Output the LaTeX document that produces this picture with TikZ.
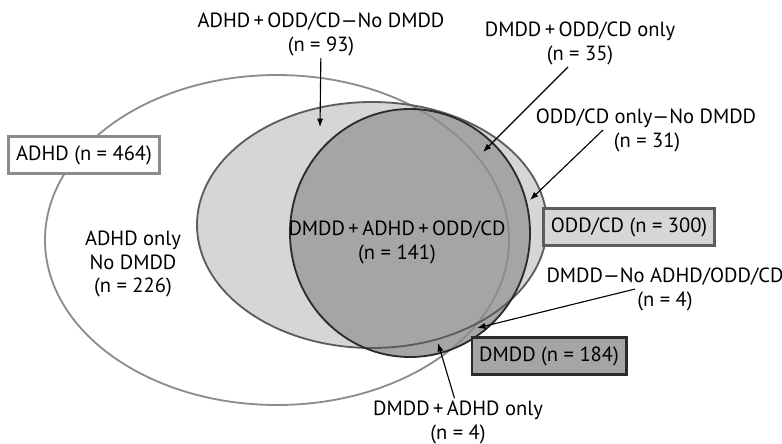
\documentclass[tikz,border=0pt]{standalone}
\usepackage{fontspec}
\setmainfont{PT Sans}
\usepackage{tikz}
\usetikzlibrary{arrows.meta}
\usetikzlibrary{positioning}

\definecolor{adhdline}{HTML}{8C8C8C}
\definecolor{oddfill}{HTML}{D6D6D6}
\definecolor{oddline}{HTML}{5C5C5C}
\definecolor{dmddfill}{HTML}{A5A5A5}
\definecolor{dmddline}{HTML}{2B2B2B}

\begin{document}
\begin{tikzpicture}[x=0.025cm,y=-0.025cm,>={Latex[length=6pt,width=4.4pt]},
 lbl/.style={align=center,inner sep=1.5pt,font=\fontsize{14.6}{17}\selectfont},
 nbox/.style={draw,line width=2.1pt,inner xsep=0.18cm,minimum height=0.92cm,font=\fontsize{14.6}{17}\selectfont},
 pointer/.style={->,line width=0.8pt}]
\useasboundingbox (0,0) rectangle (782,443);

% fills first, outlines on top
\fill[white] (277,240) ellipse [x radius=232,y radius=165];
\fill[oddfill] (372,225) ellipse [x radius=175,y radius=123];
\fill[dmddfill] (410,233) ellipse [x radius=120,y radius=124];
\draw[adhdline,line width=1.3pt] (277,240) ellipse [x radius=232,y radius=165];
\draw[oddline,line width=1.3pt] (372,225) ellipse [x radius=175,y radius=123];
\draw[dmddline,line width=1.3pt] (410,233) ellipse [x radius=120,y radius=124];

% count boxes
\node[nbox,draw=adhdline,fill=white] at (84,155) (ADHD) {ADHD (n = 464)};
\node[nbox,draw=oddline,fill=oddfill] at (629,227) (ODD) {ODD/CD (n = 300)};
\node[nbox,draw=dmddline,fill=dmddfill] at (549,356) (DMDD) {DMDD (n = 184)};

% region labels
\node[lbl] at (321,22) (AOt) {ADHD\,+\,ODD/CD—No DMDD};
\node[lbl] at (321,46) (AOn) {(n = 93)};
\node[lbl] at (580,31) (DOt) {DMDD\,+\,ODD/CD only};
\node[lbl] at (580,55) (DOn) {(n = 35)};
\node[lbl] at (646,118) (OCt) {ODD/CD only—No DMDD};
\node[lbl] at (647,142) (OCn) {(n = 31)};
\node[lbl] at (665,277) (DNt) {DMDD—No ADHD/ODD/CD};
\node[lbl] at (665,301) (DNn) {(n = 4)};
\node[lbl] at (458,410) (DAt) {DMDD\,+\,ADHD only};
\node[lbl] at (458,434) (DAn) {(n = 4)};
\node[lbl] at (397,242) (ALL) {DMDD\,+\,ADHD\,+\,ODD/CD\\(n = 141)};
\node[lbl] at (133,264) (ADo) {ADHD only\\No DMDD\\(n = 226)};

% pointer ends
\coordinate (pAO) at (320,127);
\coordinate (pDO) at (483,152);
\coordinate (pOC) at (530,200);
\coordinate (pDN) at (477,328);
\coordinate (pDA) at (438,343);

\draw[pointer] (AOn) -- (pAO);
\draw[pointer] (DOn) -- (pDO);
\draw[pointer] ([xshift=-6pt]OCn.north west) -- (pOC);
\draw[pointer] (DNn.north west) -- (pDN);
\draw[pointer] (DAt) -- (pDA);
\end{tikzpicture}
\end{document}
